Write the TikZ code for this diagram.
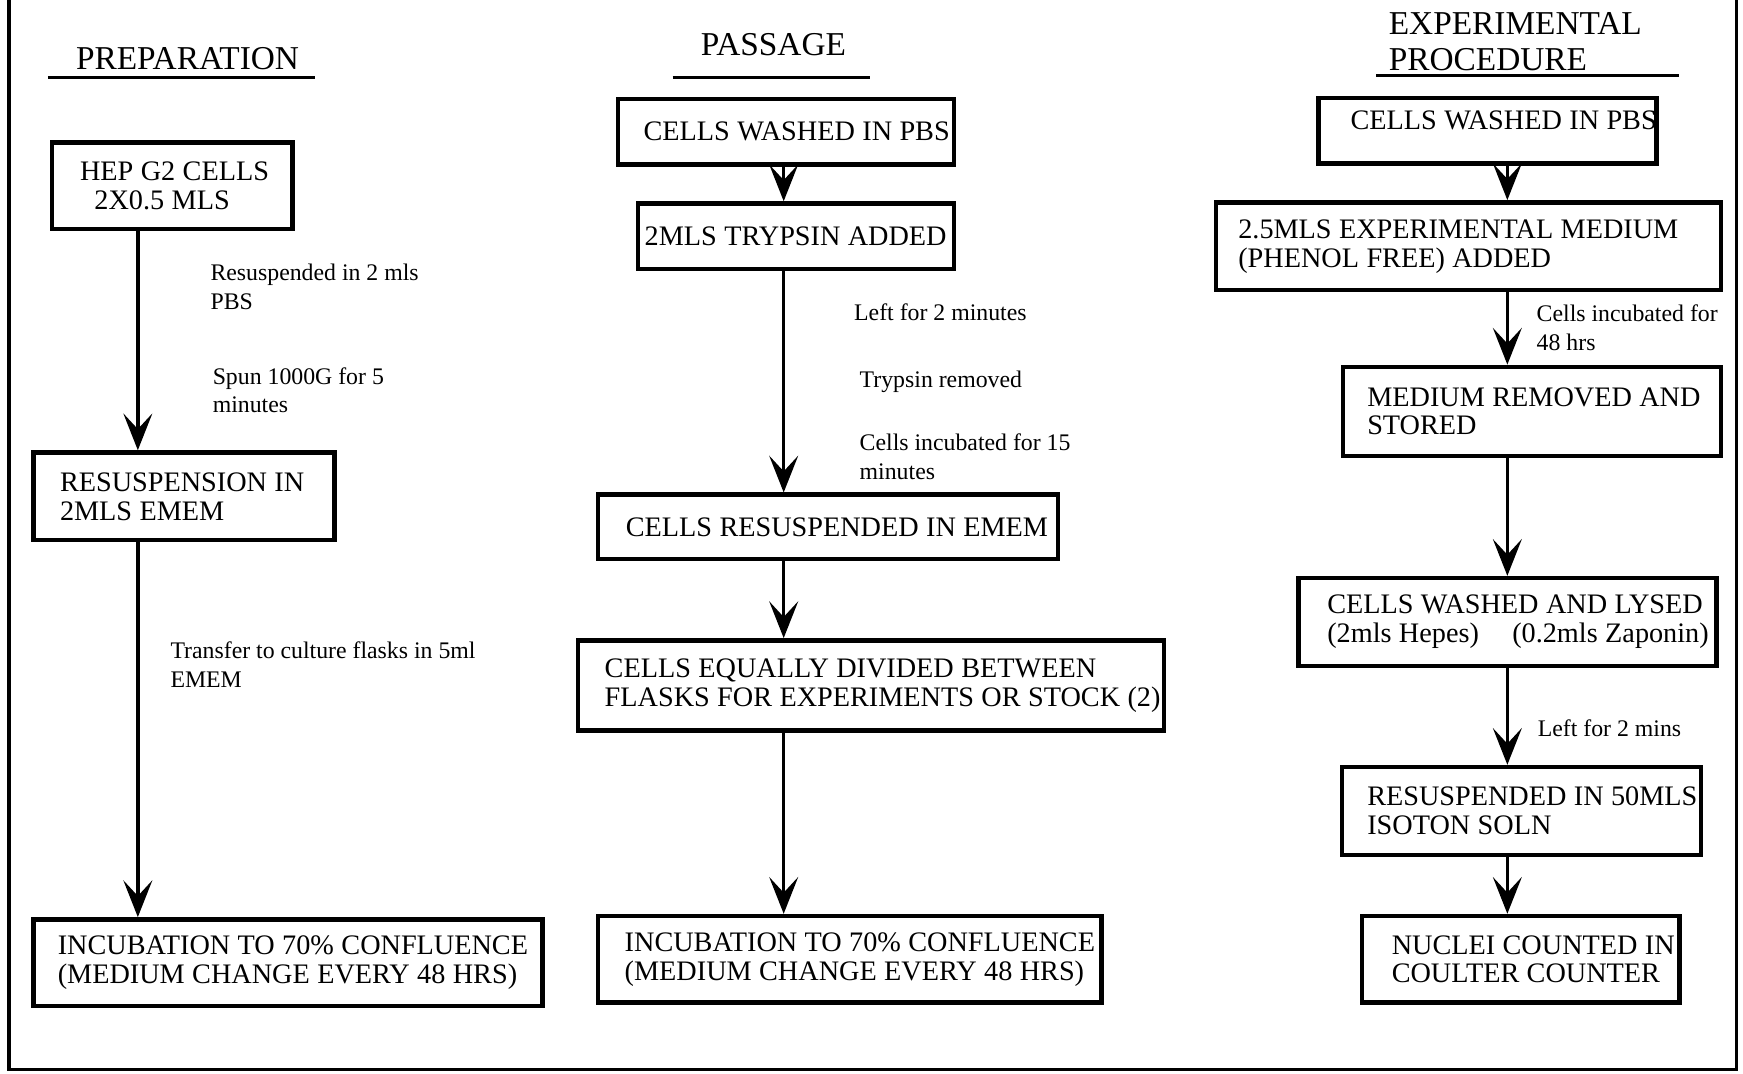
\documentclass[tikz,border=0pt]{standalone}
\usepackage{fontspec}
\setmainfont{Liberation Serif}
\usetikzlibrary{arrows.meta}
\newcommand{\boxfont}{\rmfamily\fontsize{12.7}{13}\selectfont}
\newcommand{\notefont}{\rmfamily\fontsize{10.7}{13}\selectfont}
\newcommand{\headfont}{\rmfamily\fontsize{15}{16}\selectfont}

\begin{document}
\begin{tikzpicture}[x=0.5pt, y=-0.5pt,
    stepbox/.style={draw, line width=2pt, anchor=north west, inner xsep=0pt, inner ysep=0pt, align=left,
      execute at begin node={\boxfont\leftskip=#1\rightskip=0pt plus 1fil minus 60pt}},
    flow/.style={-{Stealth[length=16.5pt, width=13pt, inset=7pt]}, line width=1.5pt},
    note/.style={anchor=north west, inner sep=0pt, align=left, font=\notefont},
    heading/.style={inner sep=0pt, align=left, font=\headfont}]
  \useasboundingbox (0,0) rectangle (1568,966);
  \draw[line width=1.5pt] (8,0) -- (8,962) -- (1562,962) -- (1562,0);
  \coordinate (c1) at (124,0);
  \coordinate (c2) at (705,0);
  \coordinate (c3) at (1356,0);

  % preparation
  \node[heading, anchor=west] (prep) at (68,53) {PREPARATION};
  \draw[line width=1.5pt] (43,70) -- (283,70);
  \node[stepbox=12.5pt, text width=108pt, minimum height=39pt] (hep) at (45,126) {HEP G2 CELLS\\\hspace*{6.5pt}2X0.5 MLS};
  \node[stepbox=12pt, text width=135.5pt, minimum height=39.5pt] (resusp) at (28,405) {RESUSPENSION IN\\2MLS EMEM};
  \node[stepbox=11pt, text width=229pt, minimum height=39pt] (incubA) at (28,825) {INCUBATION TO 70\% CONFLUENCE\\(MEDIUM CHANGE EVERY 48 HRS)};
  \foreach \a/\b in {hep/resusp, resusp/incubA}
    \draw[flow] (\a.south -| c1) -- (\b.north -| c1);
  \node[note] (spin) at (189,237) {Resuspended in 2 mls\\PBS};
  \node[note] (spun) at (191,330) {Spun 1000G for 5\\minutes};
  \node[note] (transfer) at (153,577) {Transfer to culture flasks in 5ml\\EMEM};

  % passage
  \node[heading, anchor=west] (pass) at (630,40) {PASSAGE};
  \draw[line width=1.5pt] (605,70) -- (783,70);
  \node[stepbox=11.5pt, text width=151pt, minimum height=29.5pt] (washA) at (554,87) {CELLS WASHED IN PBS};
  \node[stepbox=3pt, text width=142pt, minimum height=29.5pt] (trypsin) at (572,181) {2MLS TRYPSIN ADDED};
  \node[stepbox=12.5pt, text width=207pt, minimum height=29pt] (resuspB) at (536,443) {CELLS RESUSPENDED IN EMEM};
  \node[stepbox=12pt, text width=263.5pt, minimum height=40.5pt] (divide) at (518,574) {CELLS EQUALLY DIVIDED BETWEEN\\FLASKS FOR EXPERIMENTS OR STOCK (2)};
  \node[stepbox=12pt, text width=226.5pt, minimum height=39pt] (incubB) at (536,822) {INCUBATION TO 70\% CONFLUENCE\\(MEDIUM CHANGE EVERY 48 HRS)};
  \foreach \a/\b in {washA/trypsin, trypsin/resuspB, resuspB/divide, divide/incubB}
    \draw[flow] (\a.south -| c2) -- (\b.north -| c2);
  \node[note] (left) at (768,273) {Left for 2 minutes};
  \node[note] (removed) at (773,333) {Trypsin removed};
  \node[note] (incfifteen) at (773,390) {Cells incubated for 15\\minutes};

  % experimental procedure
  \node[heading, anchor=north west] (expt) at (1249,11) {EXPERIMENTAL\\PROCEDURE};
  \draw[line width=1.5pt] (1238,68) -- (1510,68);
  \node[stepbox=14.5pt, text width=152pt, minimum height=29.5pt, text depth=9pt] (washB) at (1184,86) {CELLS WASHED IN PBS};
  \node[stepbox=10pt, text width=227pt, minimum height=39.5pt] (medium) at (1092,180) {2.5MLS EXPERIMENTAL MEDIUM\\(PHENOL FREE) ADDED};
  \node[stepbox=11pt, text width=170pt, minimum height=40pt] (stored) at (1206,328) {MEDIUM REMOVED AND\\STORED};
  \node[stepbox=13pt, text width=188pt, minimum height=39.5pt] (lysed) at (1166,518) {CELLS WASHED AND LYSED\\(2mls Hepes)\hspace{15pt}(0.2mls Zaponin)};
  \node[stepbox=11.5pt, text width=161.5pt, minimum height=39.5pt] (isoton) at (1205,688) {RESUSPENDED IN 50MLS\\ISOTON SOLN};
  \node[stepbox=13.5pt, text width=143pt, minimum height=39pt] (nuclei) at (1223,822) {NUCLEI COUNTED IN\\COULTER COUNTER};
  \foreach \a/\b in {washB/medium, medium/stored, stored/lysed, lysed/isoton, isoton/nuclei}
    \draw[flow] (\a.south -| c3) -- (\b.north -| c3);
  \node[note] (incfortyeight) at (1382,274) {Cells incubated for\\48 hrs};
  \node[note] (lefttwo) at (1383,647) {Left for 2 mins};
\end{tikzpicture}
\end{document}
